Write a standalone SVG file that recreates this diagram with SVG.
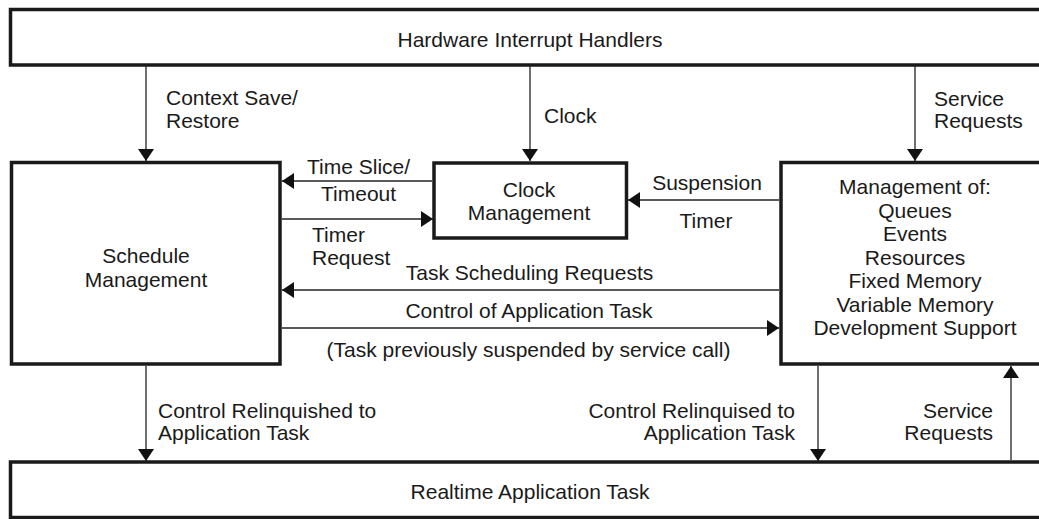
<svg xmlns="http://www.w3.org/2000/svg" width="1039" height="519" viewBox="0 0 1039 519">
<style>
.box{fill:#fff;stroke:#1a1a1a;stroke-width:3.5}
.ln{fill:none;stroke:#222;stroke-width:1.3}
text{font-family:"Liberation Sans",Arial,sans-serif;font-size:21px;fill:#1a1a1a}
.c{text-anchor:middle}
.r{text-anchor:end}
</style>
<defs>
<marker id="ah" viewBox="0 0 12 16" refX="12" refY="8" markerWidth="12" markerHeight="16" orient="auto" markerUnits="userSpaceOnUse">
<path d="M0,0 L12,8 L0,16 z" fill="#111"/>
</marker>
</defs>
<g id="hw">
<rect class="box" x="10.5" y="9.5" width="1040" height="55.5"/>
<text class="c" x="530" y="47">Hardware Interrupt Handlers</text>
</g>
<g id="sched">
<rect class="box" x="11.5" y="162.5" width="268.5" height="201.5"/>
<text class="c" x="146" y="263">Schedule</text>
<text class="c" x="146" y="287">Management</text>
</g>
<g id="clock">
<rect class="box" x="434" y="163" width="192.5" height="75"/>
<text class="c" x="529" y="197">Clock</text>
<text class="c" x="529" y="220">Management</text>
</g>
<g id="mgmt">
<rect class="box" x="781" y="162.5" width="270" height="201.5"/>
<text class="c" x="915" y="194">Management of:</text>
<text class="c" x="915" y="217.5">Queues</text>
<text class="c" x="915" y="241">Events</text>
<text class="c" x="915" y="264.5">Resources</text>
<text class="c" x="915" y="288">Fixed Memory</text>
<text class="c" x="915" y="311.5">Variable Memory</text>
<text class="c" x="915" y="335">Development Support</text>
</g>
<g id="app">
<rect class="box" x="10.5" y="462" width="1040" height="55.5"/>
<text class="c" x="530" y="499">Realtime Application Task</text>
</g>
<g id="connectors">
<line class="ln" x1="146" y1="66" x2="146" y2="161" marker-end="url(#ah)"/>
<line class="ln" x1="530" y1="66" x2="530" y2="161" marker-end="url(#ah)"/>
<line class="ln" x1="915" y1="66" x2="915" y2="161" marker-end="url(#ah)"/>
<line class="ln" x1="432" y1="181" x2="282" y2="181" marker-end="url(#ah)"/>
<line class="ln" x1="282" y1="219" x2="433" y2="219" marker-end="url(#ah)"/>
<line class="ln" x1="779" y1="200" x2="628" y2="200" marker-end="url(#ah)"/>
<line class="ln" x1="779" y1="290" x2="282" y2="290" marker-end="url(#ah)"/>
<line class="ln" x1="282" y1="328" x2="779" y2="328" marker-end="url(#ah)"/>
<line class="ln" x1="146" y1="366" x2="146" y2="461" marker-end="url(#ah)"/>
<line class="ln" x1="818" y1="366" x2="818" y2="461" marker-end="url(#ah)"/>
<line class="ln" x1="1011" y1="460" x2="1011" y2="366" marker-end="url(#ah)"/>
</g>
<g id="labels">
<text x="166" y="105">Context Save/</text>
<text x="166" y="128">Restore</text>
<text x="544" y="123">Clock</text>
<text x="934" y="106">Service</text>
<text x="934" y="128">Requests</text>
<text x="307" y="174">Time Slice/</text>
<text x="321" y="201">Timeout</text>
<text x="312" y="242">Timer</text>
<text x="312" y="265">Request</text>
<text class="c" x="707" y="190">Suspension</text>
<text class="c" x="706" y="228">Timer</text>
<text class="c" x="529.5" y="280">Task Scheduling Requests</text>
<text class="c" x="529" y="318">Control of Application Task</text>
<text class="c" x="528.5" y="357">(Task previously suspended by service call)</text>
<text x="158" y="418">Control Relinquished to</text>
<text x="158" y="440">Application Task</text>
<text class="r" x="795" y="418">Control Relinquised to</text>
<text class="r" x="795" y="440">Application Task</text>
<text class="r" x="993" y="418">Service</text>
<text class="r" x="993" y="440">Requests</text>
</g>
</svg>
